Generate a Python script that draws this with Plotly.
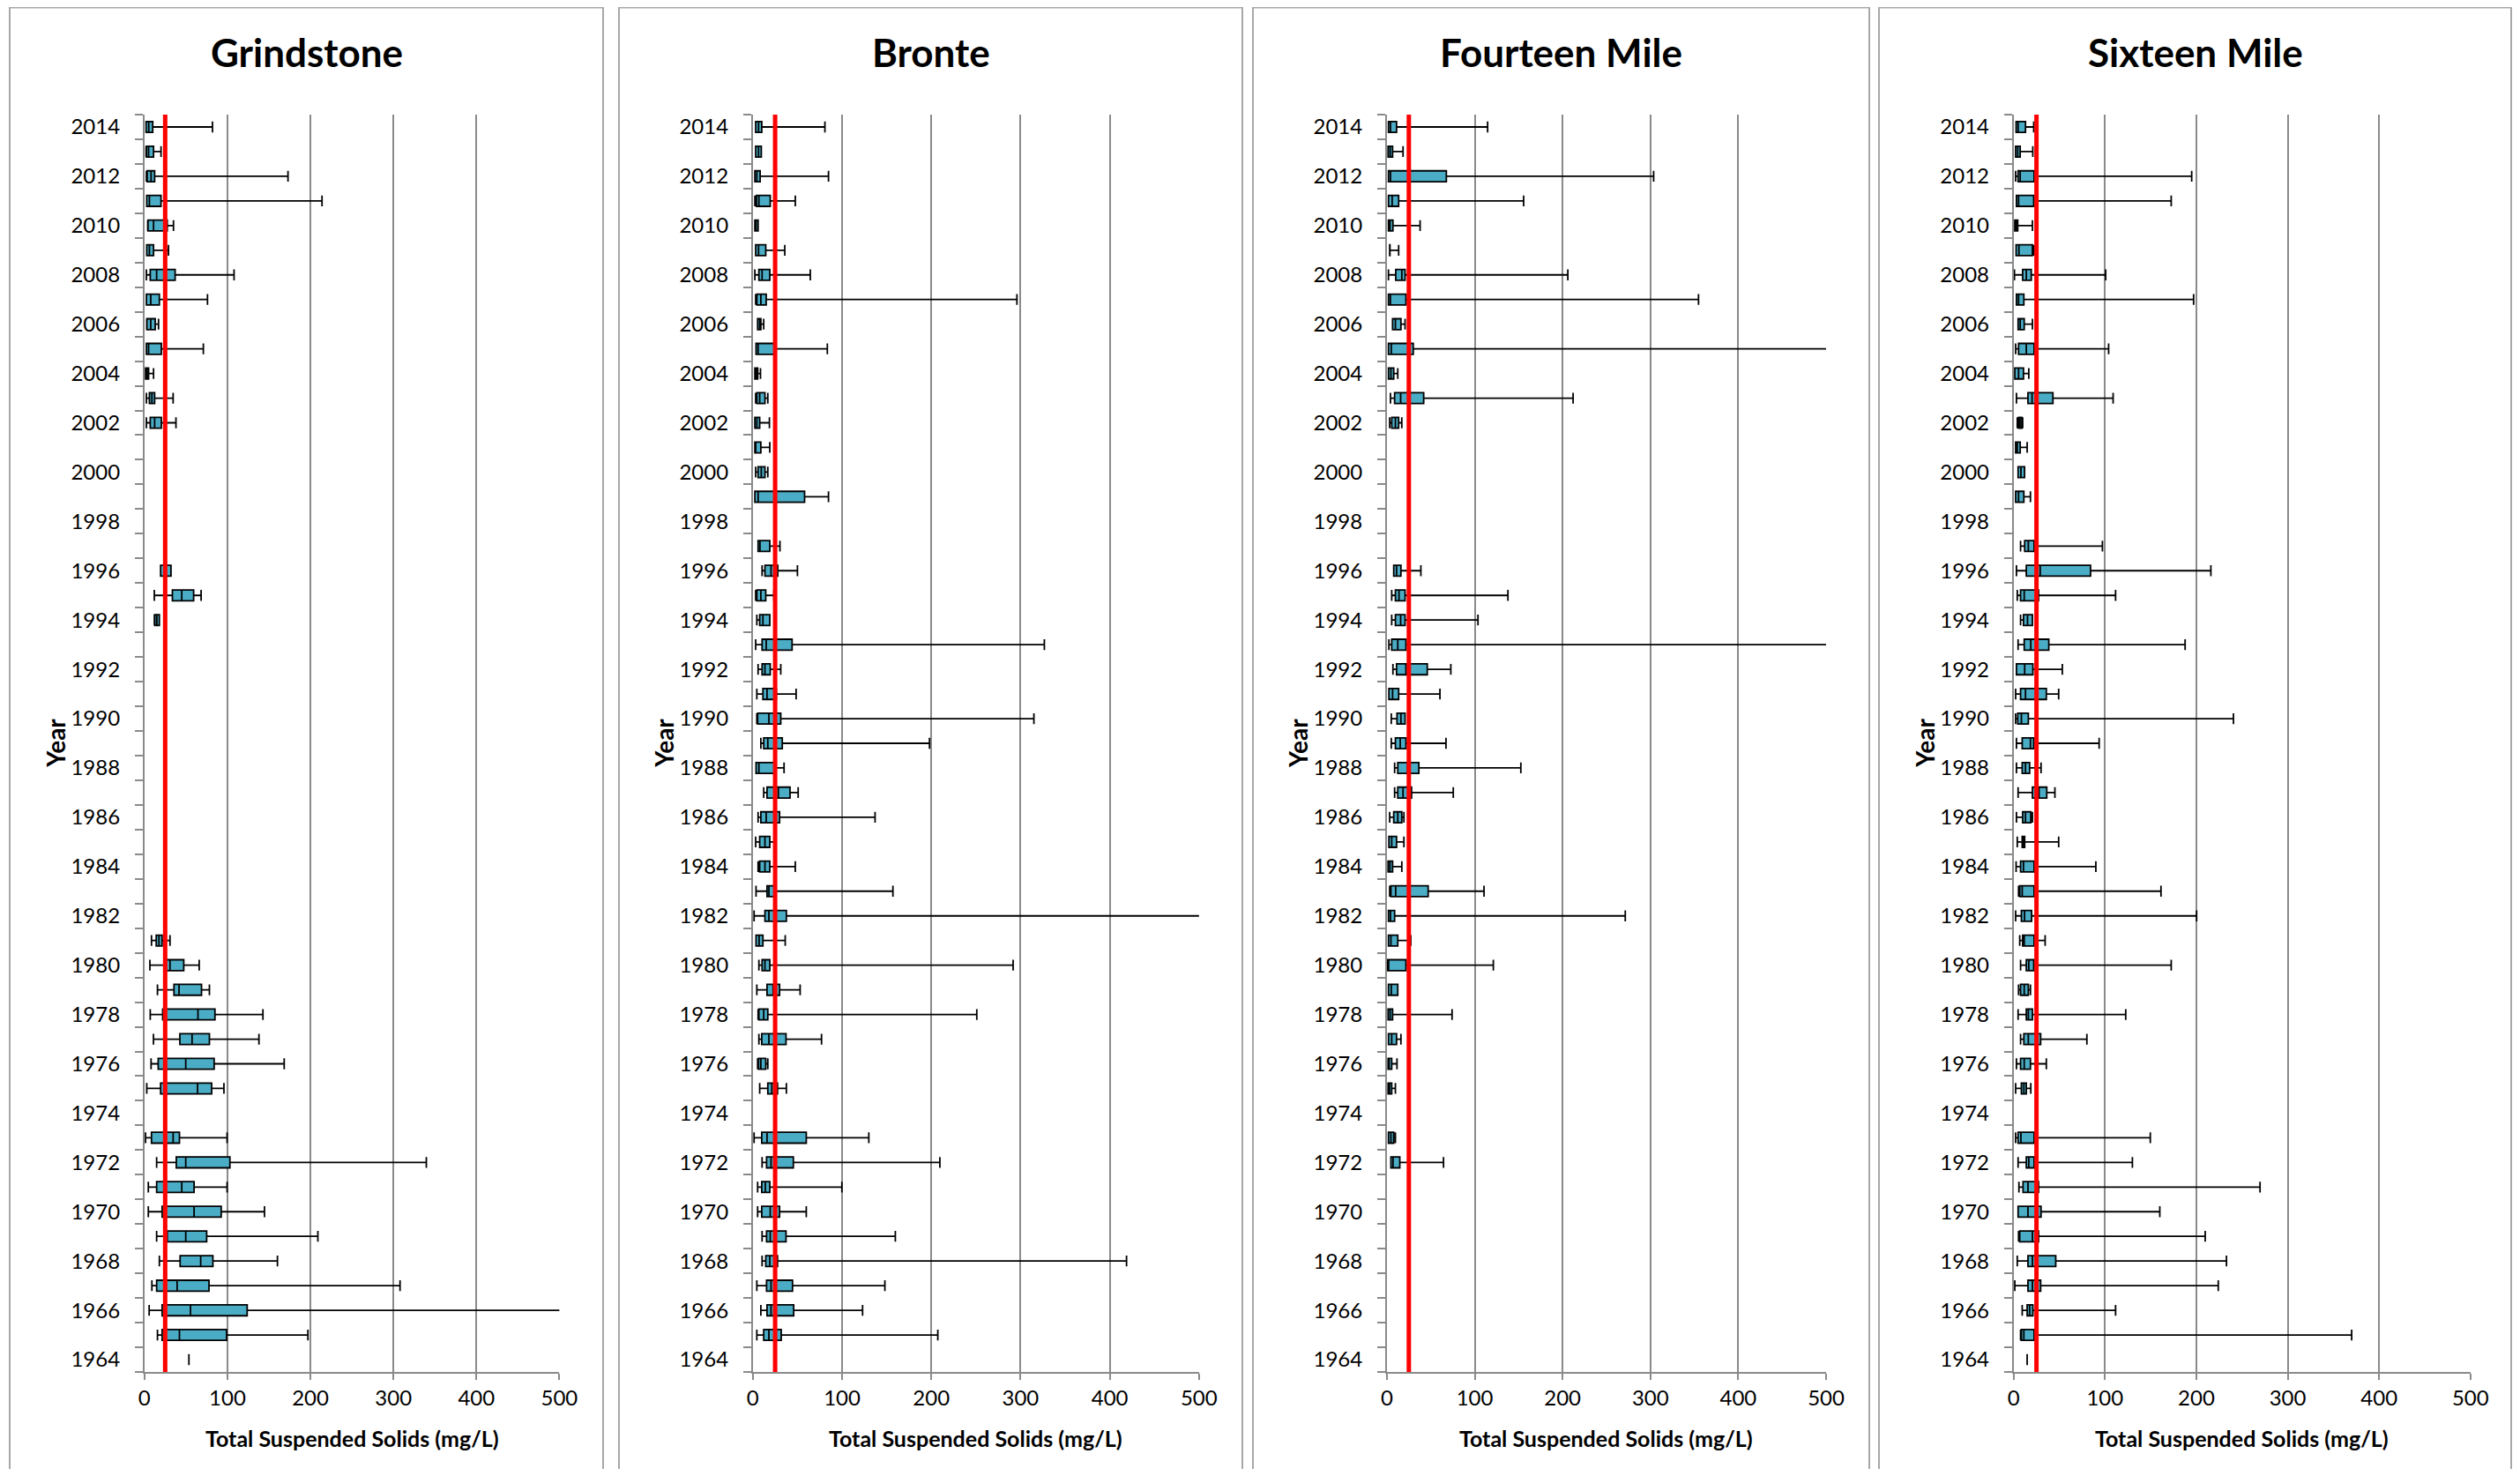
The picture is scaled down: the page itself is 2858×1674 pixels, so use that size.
import plotly.graph_objects as go

# ---------------- data (mg/L) ----------------
TITLES = ["Grindstone", "Bronte", "Fourteen Mile", "Sixteen Mile"]
GUIDELINE = 25
X_TICKS = [0, 100, 200, 300, 400, 500]
Y_LABEL_YEARS = list(range(1964, 2015, 2))

G_YEARS = [2014, 2013, 2012, 2011, 2010, 2009, 2008, 2007, 2006, 2005, 2004, 2003, 2002,
           1996, 1995, 1994, 1981, 1980, 1979, 1978, 1977, 1976, 1975,
           1973, 1972, 1971, 1970, 1969, 1968, 1967, 1966, 1965, 1964]
G_MIN = [2, 2, 2.4, 2.8, 4, 2.8, 2.4, 2.4, 2.8, 2.4, 1.4, 2.4, 2.4,
         19.5, 11.9, 12, 8.5, 6.6, 15.7, 7, 10.9, 8, 2.8,
         1.4, 14.7, 4.7, 4.7, 14.7, 18, 9, 5.7, 15.7, 53.6]
G_Q1 = [2, 2.4, 3.3, 2.8, 4.3, 2.8, 7, 2.4, 3, 2.4, 1.4, 6, 7,
        19.5, 33.7, 12.5, 14.2, 25, 35.6, 22, 42.7, 16.6, 19.5,
        8.5, 38.4, 14.7, 21.3, 27.5, 43, 14.7, 21.3, 21.3, 53.6]
G_MED = [5.2, 5, 8, 6, 11, 6, 14.7, 7.6, 7.6, 5, 3, 9, 12.3,
         25, 45, 15, 17.5, 30.8, 41.7, 64.5, 57.4, 49.8, 64,
         34.6, 49.8, 45, 59.8, 49.8, 67.8, 39.4, 55.5, 42.2, 53.6]
G_Q3 = [10, 11, 12.3, 20, 27.5, 11, 37, 18, 13, 20.4, 5, 12.3, 20.4,
        32, 59.3, 18, 21.3, 47.4, 68.8, 85, 78.3, 84, 81,
        42.2, 103, 59.8, 92.5, 75, 82.5, 77.8, 123.8, 99, 53.6]
G_MAX = [82, 20, 173, 214, 35, 29, 108, 76, 17, 71, 11, 34.6, 38,
         32, 68.3, 18, 30.8, 66, 78.3, 142.8, 138, 168.4, 95.8,
         99.6, 339.7, 99.6, 144.7, 209, 160.3, 308, 560, 197, 53.6]

B_YEARS = [2014, 2013, 2012, 2011, 2010, 2009, 2008, 2007, 2006, 2005, 2004, 2003, 2002, 2001, 2000, 1999,
           1997, 1996, 1995, 1994, 1993, 1992, 1991, 1990, 1989, 1988, 1987, 1986, 1985, 1984, 1983, 1982, 1981, 1980, 1979,
           1978, 1977, 1976, 1975,
           1973, 1972, 1971, 1970, 1969, 1968, 1967, 1966, 1965]
B_MIN = [3.2, 3.2, 2.3, 2.3, 2.3, 3.2, 2.3, 3.2, 5.4, 3.6, 2.3, 3.2, 2.3, 2.3, 3.2, 2.3,
         5.9, 10.4, 3.2, 4.5, 3.2, 5.9, 4.5, 4.5, 9, 3.6, 12.2, 5.9, 3.2, 5.9, 3.6, 1.4, 3.6, 6.8, 4.5,
         5.9, 6.8, 5.4, 7.7,
         1.4, 10.4, 5.4, 5.4, 10.4, 10.4, 4.5, 9, 4.5]
B_Q1 = [3.2, 3.2, 2.3, 4.1, 2.3, 3.2, 6.8, 4.5, 5.4, 3.6, 2.3, 4.5, 2.3, 2.3, 5.9, 2.3,
        5.9, 13.6, 4.5, 7.7, 10.4, 10.4, 11.3, 5.4, 12.2, 3.6, 15.9, 9, 7.7, 7.7, 15.9, 13.6, 3.6, 10.4, 15.9,
        6.8, 10, 6.4, 16.8,
        10, 15.4, 10, 10, 15.4, 14.5, 15.4, 15.9, 12.2]
B_MED = [6.4, 6.4, 4.5, 6.8, 3.6, 6.4, 10.4, 9, 7.7, 5.9, 4, 7.7, 4.5, 3, 9.5, 5.9,
         8, 20.4, 9, 11.3, 15, 13.6, 15.9, 18, 16.8, 6.8, 28.6, 15, 13.6, 13.6, 18, 18, 7, 13.6, 22.7,
         12.2, 18, 9, 21.3,
         15.9, 20.4, 14, 19.5, 19.5, 19, 20.4, 20.4, 18]
B_Q3 = [10, 9.5, 8.2, 19.5, 5.9, 14.5, 19, 15, 9, 24.5, 5.5, 13.6, 7.7, 9, 13.6, 58,
        19, 28, 14.5, 19, 44, 19.5, 26.3, 31.3, 33, 25.9, 41.7, 30, 19, 19, 25, 37.6, 11.3, 19, 30,
        16.8, 37.2, 14.5, 27.7,
        59.9, 45.4, 19, 30, 37.2, 27.7, 44.5, 45.8, 31.8]
B_MAX = [80.8, 9.5, 84.8, 47.6, 5.9, 35.8, 64.4, 296, 12.2, 83.5, 8.6, 16.8, 18.6, 19, 16.8, 84.8,
         30.4, 50, 23.6, 19, 326.7, 31.3, 48.5, 315, 198, 35, 50.8, 137, 25.9, 47.6, 157, 560, 36.3, 291.7, 53,
         251, 77, 16.8, 37.6,
         130, 209.6, 99.8, 59.9, 159.7, 418.8, 148, 123, 207.3]

F_YEARS = [2014, 2013, 2012, 2011, 2010, 2009, 2008, 2007, 2006, 2005, 2004, 2003, 2002,
           1996, 1995, 1994, 1993, 1992, 1991, 1990, 1989, 1988, 1987, 1986, 1985, 1984, 1983, 1982, 1981, 1980,
           1979, 1978, 1977, 1976, 1975,
           1973, 1972]
F_MIN = [1.8, 1.4, 1.8, 1.8, 1.8, 3.2, 1.8, 1.8, 6.5, 1.8, 1.8, 4.1, 3.2,
         7.8, 5.5, 5.5, 2.3, 6.9, 2.3, 5, 5, 8.8, 8.8, 3.2, 2.3, 1.4, 3.2, 1.8, 1.8, 0.9,
         1.8, 1.4, 1.8, 1.4, 1.4,
         1.8, 4.6]
F_Q1 = [1.8, 1.4, 1.8, 1.8, 1.8, 3.2, 10.1, 1.8, 6.5, 1.8, 1.8, 8.8, 5.5,
        7.8, 9.7, 9.7, 5.5, 11, 2.3, 11.5, 9.7, 12.4, 12.4, 7.8, 2.3, 1.4, 4.6, 1.8, 1.8, 0.9,
        1.8, 1.4, 1.8, 1.4, 1.4,
        1.8, 4.6]
F_MED = [4.1, 3.7, 4.1, 6, 3.5, 3.2, 17, 4, 9.7, 5, 4.6, 15.7, 9.7,
         11, 13.8, 15.7, 12.4, 21.7, 6.5, 16, 15.2, 23.5, 18.4, 12.4, 5.5, 3.5, 10, 4.1, 4.6, 2,
         5, 3.7, 5.5, 2.5, 3,
         4.6, 7]
F_Q3 = [11, 6.5, 67.7, 13.4, 6.9, 3.5, 20.7, 21.7, 16, 30, 7.8, 41.9, 13.4,
        16, 20.7, 20.7, 21.7, 46, 13.4, 20.7, 21.7, 36.4, 28.1, 17, 11, 6.5, 47, 8.8, 12.4, 21.7,
        12.4, 6.5, 11, 5.5, 5.5,
        7.8, 14.7]
F_MAX = [114.7, 18.4, 303.7, 155.7, 37.8, 13.4, 206, 354.8, 20.7, 560, 12.4, 212, 17,
         38.7, 137.8, 103.7, 560, 72.8, 60.4, 20.7, 67.3, 152.5, 75.6, 19.4, 19.4, 17, 110.6, 271.4, 27.2, 121.2,
         12.4, 74.2, 16, 11.5, 9.7,
         9.7, 64.5]

S_YEARS = [2014, 2013, 2012, 2011, 2010, 2009, 2008, 2007, 2006, 2005, 2004, 2003, 2002, 2001, 2000, 1999,
           1997, 1996, 1995, 1994, 1993, 1992, 1991, 1990, 1989, 1988, 1987, 1986, 1985, 1984, 1983, 1982,
           1981, 1980, 1979, 1978, 1977, 1976, 1975,
           1973, 1972, 1971, 1970, 1969, 1968, 1967, 1966, 1965, 1964]
S_MIN = [2.7, 2.2, 2.2, 3.1, 1.3, 2.7, 0.9, 3.1, 4.9, 2.2, 1.3, 3.1, 4, 2.2, 4.9, 2.2,
         7.6, 3.1, 4, 7.6, 4.9, 3.1, 2.2, 2.2, 3.1, 3.1, 4.9, 3.1, 4, 2.7, 5.4, 2.2,
         6.7, 7.6, 5.4, 4.9, 7.6, 3.1, 2.2,
         2.2, 4.9, 5.8, 4.9, 5.4, 4, 1.3, 9.4, 7.6, 14.8]
S_Q1 = [2.7, 2.2, 4.9, 3.1, 1.3, 2.7, 9.9, 3.1, 4.9, 5.4, 1.3, 15.7, 5.4, 2.2, 4.9, 2.2,
        12.1, 13.9, 7.6, 10.8, 11.6, 3.1, 7.6, 4.5, 9.4, 9.4, 20.6, 9.9, 9.4, 7.6, 6.7, 8.5,
        9.9, 13.9, 7.6, 13.9, 11.2, 7.6, 8.5,
        4.9, 13.9, 10.3, 4.9, 6.7, 15.7, 15.7, 14.8, 8.5, 14.8]
S_MED = [4.9, 4.5, 7.2, 5.4, 2.7, 5.8, 13.9, 5.4, 7.2, 13.9, 5.4, 20.2, 7, 4, 8, 5.4,
         16.1, 29.1, 11.6, 15.2, 18.8, 12.1, 13, 8.5, 18.4, 13, 27.8, 13, 10.8, 10.8, 9.4, 12,
         11.6, 16.6, 11.6, 16.1, 16.1, 11.6, 11.2,
         8, 16.6, 15.7, 15.7, 20.6, 20.6, 20.6, 17.5, 11.2, 14.8]
S_Q3 = [13, 7.2, 22.4, 22, 4.5, 20.6, 19.3, 11.2, 11.6, 22.4, 10.8, 43, 9, 7.2, 12, 11.2,
        22.4, 84.2, 27.3, 20.6, 38.5, 21.1, 35.8, 16.1, 22, 17.5, 36.3, 18.8, 12.1, 22.4, 22.4, 19.7,
        22.4, 22, 16.1, 20.6, 29.6, 18.4, 13.9,
        22.4, 22.4, 27.3, 30, 27.3, 46.1, 29.6, 21.1, 22.4, 14.8]
S_MAX = [22, 21, 194.9, 172.5, 20.6, 22, 100.8, 197, 20.6, 104, 16.6, 108.9, 9.9, 14.8, 12, 18.4,
         97.2, 215.9, 111.6, 20.6, 187.7, 53.3, 49.3, 240.6, 93.6, 30, 45.2, 20.6, 49.3, 90, 161.3, 200.3,
         34.5, 172.5, 18.4, 122.7, 80.2, 35.8, 18.8,
         149.6, 130, 269.7, 160, 209.7, 233, 224, 111.6, 370, 14.8]

# ---------------- styling / layout ----------------
OFF = 8                      # page body margin of the html page
W, H = 2858 - OFF, 1674 - 2 * OFF
FONT = "Lato"
TEAL = "#4BACC6"
GRID = "#8a8a8a"
FRAME = "#a8a8a8"

# positions in screen pixels (window coordinates)
PLOT_X = [(163.8, 634.4), (853.8, 1359.8), (1572.9, 2071.0), (2283.7, 2801.8)]
FRAMES_X = [(11, 684), (702, 1409), (1421, 2120), (2131, 2848)]
PLOT_TOP, PLOT_BOTTOM = 130, 1556

def px(v):
    return (v - OFF) / W

def py(v):
    return 1 - (v - OFF) / H

data = [
    (G_YEARS, G_MIN, G_Q1, G_MED, G_Q3, G_MAX),
    (B_YEARS, B_MIN, B_Q1, B_MED, B_Q3, B_MAX),
    (F_YEARS, F_MIN, F_Q1, F_MED, F_Q3, F_MAX),
    (S_YEARS, S_MIN, S_Q1, S_MED, S_Q3, S_MAX),
]

fig = go.Figure()
layout = dict(
    template="none",
    width=W, height=H, autosize=False,
    margin=dict(l=0, r=0, t=0, b=0, pad=0, autoexpand=False),
    paper_bgcolor="white", plot_bgcolor="white",
    font=dict(family=FONT, color="black"),
    showlegend=False,
    shapes=[], annotations=[],
)

minor_vals = [1963.5 + k for k in range(52)]

for i, (yrs, mn, q1, md, q3, mx) in enumerate(data):
    n = "" if i == 0 else str(i + 1)
    fig.add_trace(go.Box(
        orientation="h", y=yrs,
        q1=q1, median=md, q3=q3, lowerfence=mn, upperfence=mx,
        xaxis="x" + n, yaxis="y" + n,
        fillcolor=TEAL, line=dict(color="black", width=1.8),
        whiskerwidth=1, width=0.44, boxpoints=False,
        showlegend=False, hoverinfo="skip",
    ))
    x0, x1 = PLOT_X[i]
    layout["xaxis" + n] = dict(
        domain=[px(x0), px(x1)], range=[0, 500], anchor="y" + n, automargin=False,
        tickmode="array", tickvals=X_TICKS, ticktext=[str(t) for t in X_TICKS],
        ticks="outside", ticklen=7, tickwidth=1.5, tickcolor=GRID,
        showline=True, linecolor=GRID, linewidth=1.8,
        showgrid=True, gridcolor=GRID, gridwidth=1.8, zeroline=False,
        tickfont=dict(family=FONT, size=24, color="black"), fixedrange=True,
    )
    layout["yaxis" + n] = dict(
        domain=[py(PLOT_BOTTOM), py(PLOT_TOP)], range=[1963.5, 2014.5], anchor="x" + n,
        automargin=False,
        tickmode="array", tickvals=Y_LABEL_YEARS, ticktext=[str(y) for y in Y_LABEL_YEARS],
        ticks="outside", ticklen=9, tickcolor="rgba(0,0,0,0)",
        minor=dict(tickmode="array", tickvals=minor_vals, ticks="outside", ticklen=9,
                   tickwidth=1.5, tickcolor=GRID, showgrid=False),
        ticklabelstandoff=12,
        showline=True, linecolor=GRID, linewidth=1.8,
        showgrid=False, zeroline=False,
        tickfont=dict(family=FONT, size=24, color="black"), fixedrange=True,
    )
    # guideline
    layout["shapes"].append(dict(
        type="line", xref="x" + n, yref="y" + n + " domain",
        x0=GUIDELINE, x1=GUIDELINE, y0=0, y1=1,
        line=dict(color="#FF0000", width=5), layer="above",
    ))
    # panel frame
    fx0, fx1 = FRAMES_X[i]
    layout["shapes"].append(dict(
        type="rect", xref="paper", yref="paper",
        x0=px(fx0), x1=px(fx1), y0=-0.05, y1=py(8.5),
        line=dict(color=FRAME, width=2), fillcolor="rgba(0,0,0,0)", layer="below",
    ))
    # titles
    layout["annotations"].append(dict(
        text="<b>%s</b>" % TITLES[i], xref="paper", yref="paper",
        x=px((fx0 + fx1) / 2), y=py(59), xanchor="center", yanchor="middle",
        showarrow=False, font=dict(family=FONT, size=44, color="black"),
    ))
    layout["annotations"].append(dict(
        text="<b>Total Suspended Solids (mg/L)</b>", xref="paper", yref="paper",
        x=px((x0 + x1) / 2), y=py(1631), xanchor="center", yanchor="middle",
        showarrow=False, font=dict(family=FONT, size=25, color="black"),
    ))
    layout["annotations"].append(dict(
        text="<b>Year</b>", xref="paper", yref="paper", textangle=-90,
        x=px(x0 - 101), y=py(843), xanchor="center", yanchor="middle",
        showarrow=False, font=dict(family=FONT, size=28, color="black"),
    ))

fig.update_layout(**layout)
fig.write_html("out.html")
